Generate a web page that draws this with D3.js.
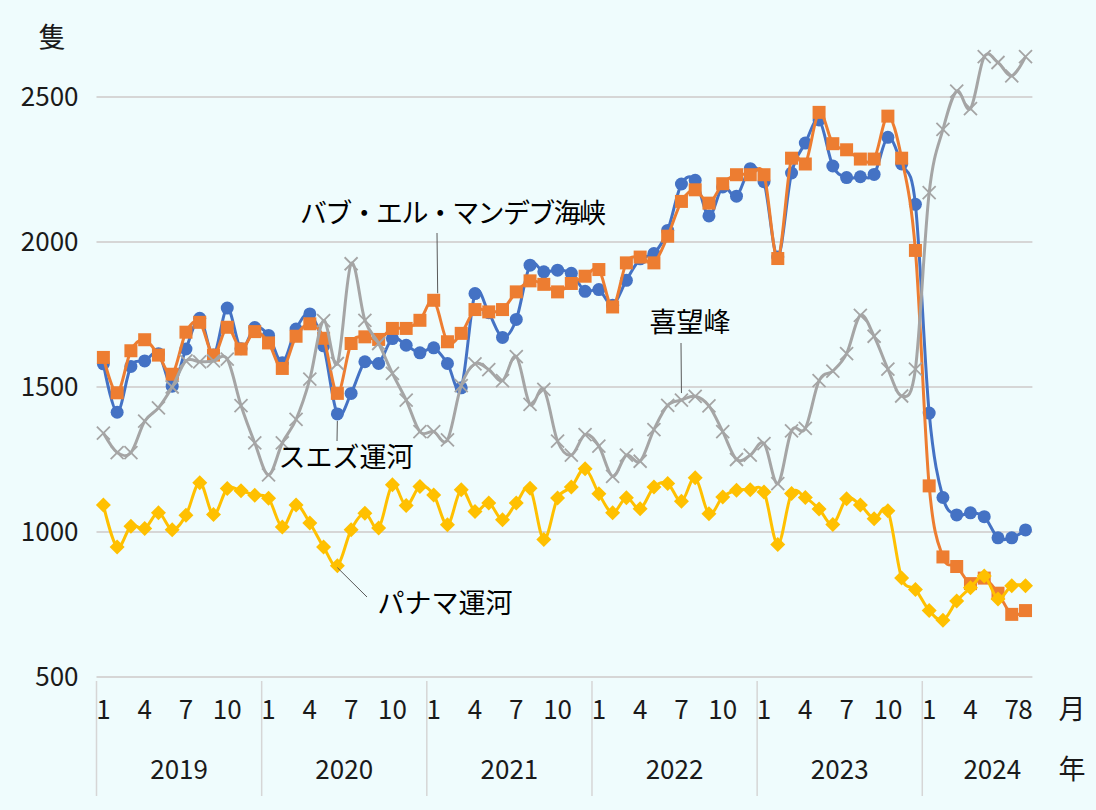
<!DOCTYPE html>
<html><head><meta charset="utf-8">
<script src="https://cdn.jsdelivr.net/npm/d3@7"></script>
<style>
html,body{margin:0;padding:0;background:#effcfd;}
svg{display:block;}
text{font-family:"Noto Sans CJK JP","Noto Sans",sans-serif;}
</style></head>
<body>
<svg id="chart" width="1096" height="810"></svg>
<script>
// ---- data ----
const years = [2019, 2020, 2021, 2022, 2023, 2024];
const months = [];
years.forEach(yr => { const n = yr === 2024 ? 8 : 12; for (let m = 1; m <= n; m++) months.push({year: yr, month: m}); });

const yTicks = [500, 1000, 1500, 2000, 2500];
const monthTickLabels = [1, 4, 7, 10];

const suez = [1580,1413,1571,1590,1615,1503,1631,1737,1610,1772,1632,1705,
              1678,1584,1700,1752,1642,1407,1478,1587,1581,1667,1644,1618,
              1635,1581,1497,1822,1756,1671,1733,1920,1897,1903,1892,1830,
              1836,1782,1868,1942,1960,2040,2200,2213,2090,2190,2158,2253,
              2208,1948,2238,2341,2421,2262,2222,2225,2233,2361,2269,2130,
              1410,1119,1059,1066,1053,980,980,1007];
const babElMandeb = [1602,1480,1625,1663,1610,1544,1689,1723,1610,1706,1631,1691,
              1652,1564,1675,1718,1668,1478,1650,1673,1664,1702,1702,1730,
              1799,1656,1685,1767,1759,1767,1828,1866,1854,1828,1857,1882,
              1905,1776,1928,1948,1928,2020,2140,2180,2134,2201,2232,2232,
              2232,1943,2289,2269,2447,2339,2318,2286,2286,2434,2289,1971,
              1159,914,881,822,841,789,716,729];
const capeOfGoodHope = [1341,1274,1274,1382,1428,1500,1590,1587,1590,1596,1436,1307,
              1197,1307,1388,1527,1729,1581,1925,1730,1650,1547,1455,1346,
              1346,1318,1505,1580,1560,1522,1605,1440,1492,1313,1265,1336,
              1296,1192,1265,1244,1353,1437,1455,1468,1435,1346,1250,1265,
              1305,1167,1349,1357,1522,1555,1615,1747,1675,1562,1469,1562,
              2170,2388,2520,2460,2639,2619,2573,2639];
const panama = [1093,948,1020,1012,1066,1008,1058,1170,1060,1150,1142,1127,
              1116,1017,1093,1031,948,884,1008,1065,1014,1163,1091,1157,
              1128,1025,1146,1071,1100,1042,1100,1151,974,1117,1155,1218,
              1132,1066,1118,1080,1155,1167,1106,1187,1063,1121,1144,1146,
              1138,957,1133,1119,1079,1026,1115,1093,1046,1073,841,802,
              729,696,762,808,848,769,815,815];

const seriesNames = ["スエズ運河", "バブ・エル・マンデブ海峡", "喜望峰", "パナマ運河"];

// ---- layout ----
const svg = d3.select("#chart");
const W = 1096, H = 810;
svg.append("rect").attr("width", W).attr("height", H).attr("fill", "#effcfd");

const plotLeft = 96.5, plotRight = 1032.4, plotTop = 97, plotBottom = 677;
const x = d3.scaleBand().domain(d3.range(months.length)).range([plotLeft, plotRight]).padding(0);
const cx = i => x(i) + x.bandwidth() / 2;
const y = d3.scaleLinear().domain([500, 2500]).range([plotBottom, plotTop]);

const textColor = "#1a1a1a";
const fs = 26;

// gridlines
svg.append("g").selectAll("line").data(yTicks).join("line")
  .attr("x1", plotLeft).attr("x2", plotRight)
  .attr("y1", d => y(d)).attr("y2", d => y(d))
  .attr("stroke", "#d6d6d6").attr("stroke-width", 2);

// y axis labels
const yAxis = d3.axisLeft(y).tickValues(yTicks).tickSize(0).tickPadding(18).tickFormat(d3.format("d"));
const gy = svg.append("g").attr("transform", `translate(${plotLeft},0)`).call(yAxis);
gy.select(".domain").remove();
gy.selectAll("text").attr("font-size", fs).attr("fill", textColor)
  .style("font-family", '"Noto Sans CJK JP", sans-serif');

svg.append("text").attr("x", 52).attr("y", 40).attr("text-anchor", "middle")
  .attr("dominant-baseline", "middle").attr("font-size", 27).attr("fill", textColor).text("隻");

// month labels
const monthTickIdx = months.map((m, i) => i).filter(i =>
  monthTickLabels.includes(months[i].month) || i === months.length - 1);
const xAxis = d3.axisBottom(x).tickValues(monthTickIdx).tickSize(0).tickPadding(24)
  .tickFormat(i => months[i].month);
const gx = svg.append("g").attr("transform", `translate(0,${plotBottom})`).call(xAxis);
gx.select(".domain").remove();
gx.selectAll("text").attr("font-size", fs).attr("fill", textColor)
  .style("font-family", '"Noto Sans CJK JP", sans-serif');

svg.append("text").attr("x", 1072).attr("y", 712).attr("text-anchor", "middle")
  .attr("dominant-baseline", "middle").attr("font-size", 27).attr("fill", textColor).text("月");
svg.append("text").attr("x", 1072).attr("y", 772).attr("text-anchor", "middle")
  .attr("dominant-baseline", "middle").attr("font-size", 27).attr("fill", textColor).text("年");

// year separators and labels
const yearInfo = years.map(yr => {
  const idx = months.map((m, i) => i).filter(i => months[i].year === yr);
  return {yr, start: x(idx[0]), end: x(idx[idx.length - 1]) + x.bandwidth(), n: idx.length};
});
svg.append("g").selectAll("line").data(yearInfo).join("line")
  .attr("x1", d => d.start).attr("x2", d => d.start)
  .attr("y1", plotBottom + 4).attr("y2", 796)
  .attr("stroke", "#d6d6d6").attr("stroke-width", 1.5);
svg.append("g").selectAll("text").data(yearInfo).join("text")
  .attr("x", d => d.n === 12 ? (d.start + d.end) / 2 : d.start + 70)
  .attr("y", 772).attr("text-anchor", "middle").attr("dominant-baseline", "middle")
  .attr("font-size", fs).attr("fill", textColor).text(d => d.yr);

// ---- series ----
const line = d3.line().x((d, i) => cx(i)).y(d => y(d)).curve(d3.curveCardinal.tension(0));

function drawLine(data, color) {
  svg.append("path").datum(data).attr("d", line)
    .attr("fill", "none").attr("stroke", color).attr("stroke-width", 3)
    .attr("stroke-linejoin", "round");
}

// Suez
drawLine(suez, "#4472C4");
svg.append("g").selectAll("circle").data(suez).join("circle")
  .attr("cx", (d, i) => cx(i)).attr("cy", d => y(d)).attr("r", 6.5).attr("fill", "#4472C4");

// Bab el-Mandeb
drawLine(babElMandeb, "#ED7D31");
svg.append("g").selectAll("rect").data(babElMandeb).join("rect")
  .attr("x", (d, i) => cx(i) - 6.5).attr("y", d => y(d) - 6.5)
  .attr("width", 13).attr("height", 13).attr("fill", "#ED7D31");

// Cape of Good Hope
drawLine(capeOfGoodHope, "#A5A5A5");
const xs = 6.5;
svg.append("g").selectAll("path").data(capeOfGoodHope).join("path")
  .attr("d", (d, i) => {
    const px = cx(i), py = y(d);
    return `M${px - xs},${py - xs}L${px + xs},${py + xs}M${px - xs},${py + xs}L${px + xs},${py - xs}`;
  })
  .attr("stroke", "#A5A5A5").attr("stroke-width", 1.8).attr("fill", "none");

// Panama
drawLine(panama, "#FFC000");
svg.append("g").selectAll("path").data(panama).join("path")
  .attr("d", (d, i) => {
    const px = cx(i), py = y(d), s = 7.5;
    return `M${px},${py - s}L${px + s},${py}L${px},${py + s}L${px - s},${py}Z`;
  })
  .attr("fill", "#FFC000");

// ---- callout labels ----
const callouts = [
  {name: seriesNames[1], series: babElMandeb, idx: 24, tx: 453, ty: 216, lx1: 437, ly1: 233, dx: 4, len: 306},
  {name: seriesNames[0], series: suez, idx: 17, tx: 346, ty: 460, lx1: 337, ly1: 441, dx: 0, len: 0},
  {name: seriesNames[2], series: capeOfGoodHope, idx: 42, tx: 690, ty: 325, lx1: 681, ly1: 343, dx: 0, len: 0},
  {name: seriesNames[3], series: panama, idx: 17, tx: 445, ty: 606, lx1: 367, ly1: 597, dx: 0, len: 0}
];
callouts.forEach(c => {
  const px = cx(c.idx) + c.dx, py = y(c.series[c.idx]);
  const isPanama = c.name === seriesNames[3];
  svg.append("line")
    .attr("x1", c.lx1).attr("y1", c.ly1)
    .attr("x2", isPanama ? cx(c.idx) : px)
    .attr("y2", isPanama ? py + 2 : (c.ly1 < py ? py - 7 : py + 7))
    .attr("stroke", "#595959").attr("stroke-width", 1);
  const t = svg.append("text").attr("x", c.tx).attr("y", c.ty)
    .attr("text-anchor", "middle").attr("dominant-baseline", "middle")
    .attr("font-size", 27).attr("fill", "#000").text(c.name);
  if (c.len) t.attr("textLength", c.len).attr("lengthAdjust", "spacing");
});
</script>
</body></html>
